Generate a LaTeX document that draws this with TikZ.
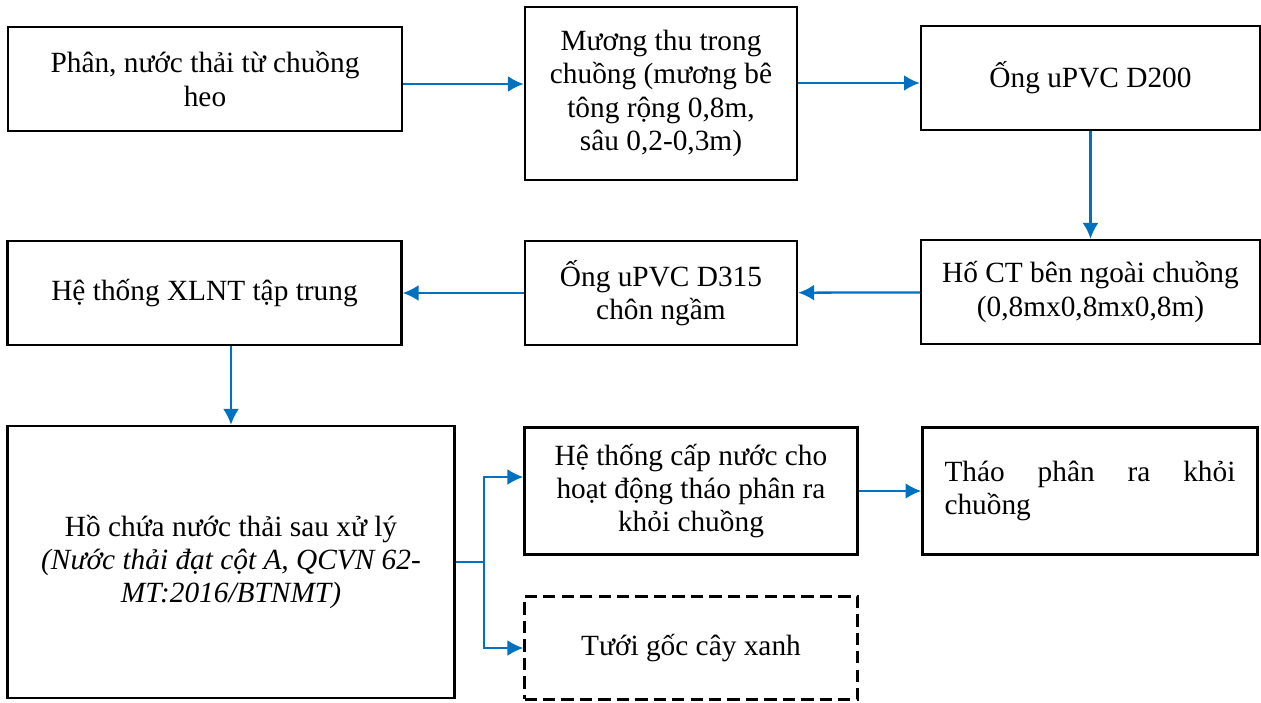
\documentclass[tikz,border=0pt]{standalone}
\usepackage{fontspec}
\setmainfont{Liberation Serif}
\usepackage{xcolor}
\usetikzlibrary{arrows.meta}
\definecolor{flowblue}{RGB}{0,112,192}

\begin{document}
\begin{tikzpicture}[x=0.02cm, y=-0.02cm,
    every node/.style={font=\fontsize{16.7}{19}\selectfont},
    box/.style={draw, line width=1.4pt, align=center, inner sep=2pt},
    flow/.style={-{Latex[length=9pt,width=9pt]}, flowblue, line width=1.3pt}]
    \useasboundingbox (0,0) rectangle (1261,703);
    % first row
    \node[box, minimum width=7.88cm, minimum height=2.08cm] (phan) at (205,79) {Phân, nước thải từ chuồng\\heo};
    \node[box, minimum width=5.44cm, minimum height=3.46cm] (muong) at (661,93.5) {Mương thu trong\\chuồng (mương bê\\tông rộng 0,8m,\\sâu 0,2-0,3m)};
    \node[box, minimum width=6.78cm, minimum height=2.08cm] (d200) at (1090.5,78) {Ống uPVC D200};
    % second row
    \node[box, minimum width=6.78cm, minimum height=2.08cm] (hoct) at (1090.5,292) {Hố CT bên ngoài chuồng\\(0,8mx0,8mx0,8m)};
    \node[box, minimum width=5.44cm, minimum height=2.08cm] (d315) at (661,293) {Ống uPVC D315\\chôn ngầm};
    \node[box, minimum width=7.88cm, minimum height=2.08cm] (xlnt) at (204.5,293) {Hệ thống XLNT tập trung};
    % third row
    \node[box, minimum width=8.94cm, minimum height=5.44cm] (hochua) at (231,562) {Hồ chứa nước thải sau xử lý\\\textit{(Nước thải đạt cột A, QCVN 62-}\\\textit{MT:2016/BTNMT)}};
    \node[box, minimum width=6.66cm, minimum height=2.54cm] (capnuoc) at (691,491) {Hệ thống cấp nước cho\\hoạt động tháo phân ra\\khỏi chuồng};
    \node[box, minimum width=6.70cm, minimum height=2.54cm, text width=5.82cm, align=left] (thao) at (1090,491) {Tháo\hfill phân\hfill ra\hfill khỏi\\chuồng};
    \node[box, dash pattern=on 7pt off 3.5pt, minimum width=6.66cm, minimum height=2.06cm] (tuoi) at (691,648) {Tưới gốc cây xanh};

    \draw[flow] ([yshift=-0.1cm]phan.east) -- ([yshift=-0.1cm]phan.east -| muong.west);
    \draw[flow] ([yshift=-0.1cm]muong.east |- d200) -- ([yshift=-0.1cm]d200.west);
    \draw[flow] (d200) -- (hoct);
    \draw[flow] (hoct) -- (d315);
    \draw[flow] (d315) -- (xlnt);
    \draw[flow] (xlnt.south -| hochua) -- (hochua.north);
    \draw[flow] (hochua.east) -- ++(28,0) |- ([yshift=0.28cm]capnuoc.west);
    \draw[flow] (hochua.east) -- ++(28,0) |- (tuoi.west);
    \draw[flow] (capnuoc) -- (thao);
\end{tikzpicture}
\end{document}
